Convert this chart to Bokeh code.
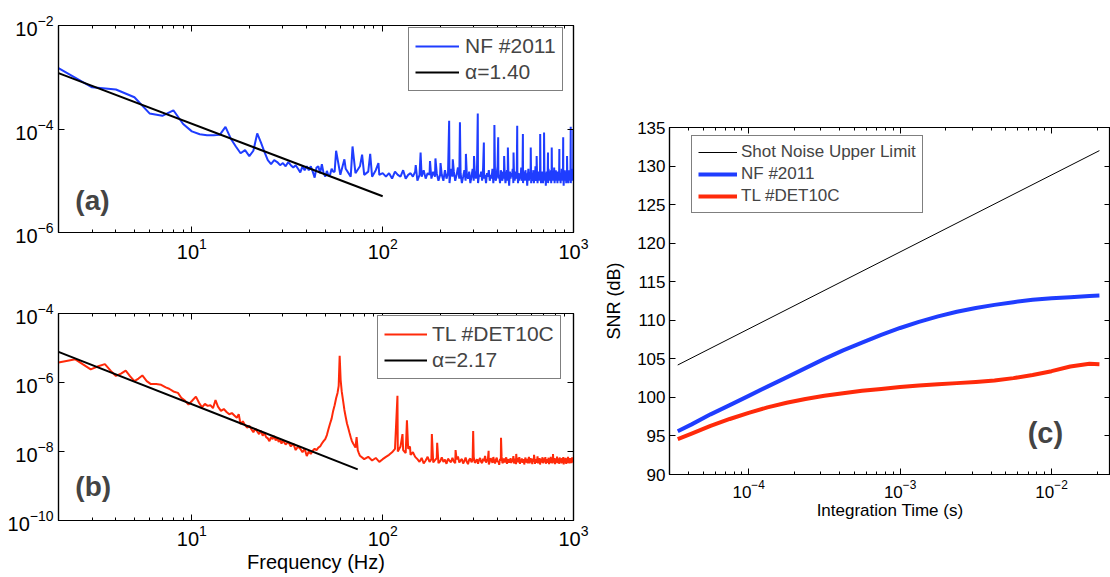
import numpy as np
from bokeh.plotting import figure
from bokeh.layouts import row, column
from bokeh.models import (Legend, LegendItem, LogAxis, LinearAxis, FixedTicker,
                          CustomJSTickFormatter, Label, Range1d)
from bokeh.embed import file_html
from bokeh.resources import INLINE

FONT = "Liberation Sans"
BLUE = "#1f3dff"
RED = "#ff2a0a"

# ---------------- (a) NF #2011 noise spectrum, values in 1e-6 ----------------
nf_freq_low = list(range(2, 56))
nf_psd_low = [1500, 640, 580, 410, 200, 180, 230, 125, 90, 79,
              76, 76, 77, 110, 65, 46, 34, 39, 30, 38,
              82, 55, 36, 25, 21, 25, 23, 20, 22, 19,
              23, 20, 18, 20, 17, 14.5, 19, 16, 19, 16,
              19, 15, 11.5, 18, 19, 14, 21, 14, 12, 15.5,
              12.5, 13, 17, 15]
nf_freq_floor = list(range(56, 1001, 4))
nf_psd_floor = [
    15, 13, 17, 12, 14, 19, 13, 15, 12, 16, 13, 14,
    12, 14, 11, 15, 13, 12, 16, 11, 13, 14, 12, 15, 10, 13, 12, 16, 11, 14, 13, 11, 15, 12, 14, 10, 13,
    13, 10, 16, 11, 14, 9, 17, 12, 15, 10, 13, 18, 11, 14, 9, 12, 16, 10, 13, 11,
    15, 9, 12, 17, 10, 14, 11, 16, 9, 13, 12, 15, 10, 18, 11, 13, 9, 14, 12, 16,
    10, 13, 11, 17, 9, 15, 12, 10, 14, 19, 11, 13, 9, 16, 12, 10, 15, 11, 14, 9,
    12, 16, 10, 13, 8, 15, 11, 14, 12, 17, 9, 13, 10, 15, 12, 11, 16, 9, 14, 10,
    13, 11, 18, 10, 12, 9, 15, 13, 10, 16, 11, 14, 8, 12, 17, 10, 13, 11, 15, 9,
    14, 10, 12, 16, 9, 13, 11, 19, 10, 12, 14, 9, 15, 11, 13, 10, 17, 12, 9, 14,
    11, 15, 9, 13, 12, 16, 10, 14, 8, 12, 15, 11, 13, 9, 17, 10, 14, 12, 10, 16,
    9, 13, 11, 15, 10, 14, 12, 18, 9, 13, 11, 16, 10, 12, 14, 9, 15, 11, 13, 10,
    16, 10, 12, 9, 14, 11, 17, 10, 13, 12, 15, 8, 13, 11, 16, 10, 12, 14, 9, 15,
    11, 14, 10, 13, 9, 16, 12, 10, 15, 11, 13, 9, 17, 12, 10, 14, 11, 13, 10, 11]
nf_spike_freq = [57, 63, 69.5, 78, 86, 95, 149, 158, 177, 189, 201,
                 223, 233, 254, 273, 301, 315, 339, 385, 403, 433,
                 453, 485, 507, 543, 597, 641, 669, 701, 735, 769,
                 843, 883, 925, 967, 998]
nf_spike_psd = [38, 26, 46, 32, 33, 22, 20, 35, 24, 27, 22,
                145, 26, 135, 33, 30, 200, 55, 120, 69, 30,
                44, 35, 116, 80, 44, 30, 80, 86, 35, 44,
                41, 69, 30, 110, 100]
nf_alpha = 1.40
nf_fit_freq = [2, 100]
nf_fit_start = 1.2e-3

# ---------------- (b) TL #DET10C noise spectrum, values in 1e-9 ----------------
tl_freq_low = [2.0, 2.2, 2.45, 2.7, 2.95, 3.2, 3.5, 3.75, 4.0, 4.25,
               4.5, 4.75, 5.0, 5.25, 5.5, 5.8, 6.1, 6.5, 6.9, 7.3,
               7.6, 8.0, 8.45, 8.8, 9.2, 9.6, 10.0, 10.5, 10.9, 11.3,
               11.7, 12.1, 12.5, 12.9, 13.3, 13.7, 14.2, 14.7, 15.2, 15.7,
               16.2, 16.7, 17.2, 17.6, 18.0, 18.5, 19.0, 19.5, 20.0, 20.5,
               21.0, 21.5, 22, 22.5, 23, 23.5, 24, 24.5, 25, 25.5,
               26, 26.5, 27, 27.5, 28, 28.5, 29, 29.5, 30, 31,
               32, 33, 34, 35, 36, 37, 38, 39, 40, 41,
               42, 43, 44, 45, 46, 47, 48, 49, 50, 51,
               52, 53, 54, 55, 56, 57, 58, 58.8, 59.5, 60.2,
               61, 62, 63, 64, 65, 66, 67, 68, 69, 70,
               71, 72, 73, 74, 75]
tl_psd_low = [3800, 4200, 4700, 3300, 2400, 2900, 3400, 2200, 1550, 1800,
              2200, 1500, 1100, 1300, 1600, 1100, 900, 900, 860, 720,
              660, 550, 500, 360, 300, 230, 290, 390, 260, 190,
              240, 210, 220, 180, 310, 200, 150, 170, 140, 120,
              130, 110, 95, 120, 62, 75, 58, 49, 56, 44,
              36, 46, 38, 32, 40, 29, 34, 26, 24, 20,
              26, 23, 28, 21, 25, 19, 22, 17, 21, 16,
              19, 14, 17, 11, 14, 12, 9.5, 12, 7.4, 10,
              8.5, 10.5, 12, 11, 13, 14, 17, 20, 23, 30,
              45, 65, 90, 150, 220, 350, 500, 800, 5900, 1200,
              550, 300, 160, 100, 65, 48, 35, 26, 20, 17,
              15, 13, 26, 11, 9]
tl_freq_floor = list(range(76, 1001, 4))
tl_psd_floor = [
    7.5, 6.0, 7.0, 5.5, 6.5, 5.0, 6.0, 7.0, 8.0, 9.5,
    12, 10, 14, 11, 9, 12, 8, 9.5, 7,
    6.0, 5.0, 6.5, 4.5, 5.5, 7.0, 5.0, 6.0, 4.8, 5.6, 6.4, 4.6, 5.2, 6.8, 5.0, 5.8, 4.4, 6.2, 5.4, 4.9,
    6.6, 5.1, 4.6, 5.9, 7.2, 4.8, 5.5, 6.1, 4.5, 5.3, 6.7, 5.0, 4.3, 5.8, 6.3, 4.9, 5.6, 7.0, 4.7, 5.2,
    6.0, 4.4, 5.7, 6.5, 5.0, 4.6, 6.2, 5.3, 7.4, 4.8, 5.5, 6.0, 4.2, 5.1, 6.4, 5.6, 4.7, 6.9, 5.2, 4.5,
    5.8, 6.6, 4.9, 5.3, 4.1, 6.1, 5.4, 7.1, 4.6, 5.0, 6.3, 4.8, 5.7, 6.8, 4.4, 5.2, 6.0, 4.7, 5.5, 6.4,
    4.6, 5.9, 5.1, 7.3, 4.5, 5.4, 6.2, 4.3, 5.6, 6.5, 4.9, 5.2, 6.9, 4.4, 5.8, 5.0, 6.3, 4.7, 5.4, 6.0,
    4.2, 5.5, 6.7, 4.8, 5.1, 6.1, 4.5, 5.7, 7.0, 4.6, 5.3, 6.4, 4.9, 5.6, 4.3, 6.2, 5.0, 5.8, 6.6, 4.4,
    5.3, 6.0, 4.7, 5.5, 7.2, 4.5, 5.9, 5.1, 6.5, 4.2, 5.4, 6.1, 4.8, 5.7, 6.8, 4.6, 5.2, 6.3, 4.9, 5.6,
    6.9, 4.4, 5.3, 6.0, 4.7, 5.8, 5.1, 6.6, 4.3, 5.5, 6.2, 4.9, 7.0, 4.6, 5.4, 5.9, 4.5, 6.4, 5.2, 4.8,
    5.7, 6.5, 4.3, 5.4, 6.1, 4.8, 5.2, 7.1, 4.6, 5.9, 5.0, 6.3, 4.4, 5.6, 6.7, 4.9, 5.3, 6.0, 4.5, 5.8,
    6.4, 4.7, 5.5, 6.9, 4.2, 5.1, 6.2, 5.6, 4.8, 6.6, 5.0, 4.4, 5.9, 6.3, 4.6, 5.4, 7.0, 4.9, 5.2, 6.1,
    4.5, 5.7, 6.4, 4.8, 5.3, 6.0, 4.6, 5.5, 6.8, 4.9, 5.2, 6.2, 5.4]
tl_spike_freq = [119.5, 127, 134, 139, 181, 193, 241, 298, 359, 417, 501, 621, 781]
tl_spike_psd = [410, 32, 80, 14, 32, 18, 11, 39, 10.5, 25, 8.5, 8, 8.5]
tl_alpha = 2.17
tl_fit_freq = [2, 74]
tl_fit_start = 7.7e-6

# ---------------- (c) SNR versus integration time ----------------
shot_time = [3.4e-5, 2.07e-2]
shot_snr = [104.2, 132.0]
snr_time = [3.4e-5, 4.2e-5, 5.6e-5, 7.5e-5, 1e-4, 1.33e-4, 1.78e-4, 2.37e-4,
            3.16e-4, 4.2e-4, 5.6e-4, 7.5e-4, 1e-3, 1.33e-3, 1.78e-3, 2.37e-3,
            3.16e-3, 4.2e-3, 5.6e-3, 7.5e-3, 1e-2, 1.33e-2, 1.78e-2, 2.07e-2]
nf_snr = [95.6, 96.5, 97.8, 99.0, 100.2, 101.4, 102.6, 103.8,
          105.0, 106.1, 107.1, 108.1, 109.0, 109.8, 110.5, 111.1,
          111.6, 112.0, 112.35, 112.65, 112.85, 113.0, 113.15, 113.2]
tl_snr = [94.6, 95.3, 96.3, 97.2, 98.0, 98.7, 99.3, 99.8,
          100.2, 100.55, 100.85, 101.1, 101.35, 101.55, 101.7, 101.85,
          102.0, 102.2, 102.5, 102.9, 103.4, 104.0, 104.35, 104.3]


def merged(f_parts, v_parts, scale):
    f = np.concatenate([np.asarray(a, float) for a in f_parts])
    v = np.concatenate([np.asarray(a, float) for a in v_parts]) * scale
    order = np.argsort(f, kind="stable")
    return f[order], v[order]


def power_law(freqs, start, alpha):
    f = np.asarray(freqs, float)
    return f, start * (f / f[0]) ** (-alpha)


def blank():
    return CustomJSTickFormatter(code="return ''")


def style_axis(ax, size):
    ax.axis_line_color = "black"
    ax.axis_line_width = 1.2
    ax.major_tick_line_color = "black"
    ax.minor_tick_line_color = "black"
    ax.major_tick_in = 6
    ax.major_tick_out = 0
    ax.minor_tick_in = 3
    ax.minor_tick_out = 0
    ax.major_label_text_font = FONT
    ax.major_label_text_font_size = size
    ax.major_label_text_color = "black"
    ax.axis_label_text_font = FONT
    ax.axis_label_text_font_style = "normal"
    ax.axis_label_text_color = "black"


def box_axes(p, xtick, ytick, size, xlog=True, ylog=True):
    bottom, left = p.below[0], p.left[0]
    style_axis(bottom, size)
    style_axis(left, size)
    bottom.ticker = xtick
    left.ticker = ytick
    top = (LogAxis if xlog else LinearAxis)(ticker=xtick, formatter=blank())
    right = (LogAxis if ylog else LinearAxis)(ticker=ytick, formatter=blank())
    for ax in (top, right):
        style_axis(ax, "0px")
        ax.major_label_standoff = 0
    p.add_layout(top, "above")
    p.add_layout(right, "right")
    return bottom, left


def base_fig(w, h, xr, yr, xtype, ytype, left, right, top, bottom):
    p = figure(width=w, height=h, x_range=xr, y_range=yr,
               x_axis_type=xtype, y_axis_type=ytype,
               output_backend="svg", toolbar_location=None,
               min_border_left=left, min_border_right=right,
               min_border_top=top, min_border_bottom=bottom)
    p.grid.visible = False
    p.outline_line_color = "black"
    p.outline_line_width = 1.2
    p.background_fill_color = "white"
    p.border_fill_color = "white"
    return p


def legend(items, loc, size, glyph_w, standoff, padding, spacing, lh):
    return Legend(items=items, location=loc, margin=0, padding=padding,
                  spacing=spacing, glyph_width=glyph_w, glyph_height=lh,
                  label_height=lh, label_standoff=standoff,
                  label_text_font=FONT, label_text_font_size=size,
                  border_line_color="black", border_line_width=1.5,
                  background_fill_color="white", background_fill_alpha=1)


freq_ticker = FixedTicker(ticks=[10, 100, 1000],
                          minor_ticks=[m * d for d in (1, 10, 100) for m in range(2, 10)])

# ---------------- panel (a) ----------------
fa = base_fig(600, 280, Range1d(2, 1000), Range1d(1e-6, 1e-2), "log", "log", 58, 27, 25, 48)
box_axes(fa, freq_ticker, FixedTicker(ticks=[1e-6, 1e-4, 1e-2]), "20px")
fa_f, fa_v = merged([nf_freq_low, nf_freq_floor, nf_spike_freq],
                    [nf_psd_low, nf_psd_floor, nf_spike_psd], 1e-6)
ra1 = fa.line(fa_f, fa_v, line_color=BLUE, line_width=2)
fit_f, fit_v = power_law(nf_fit_freq, nf_fit_start, nf_alpha)
ra2 = fa.line(fit_f, fit_v, line_color="black", line_width=2)
fa.add_layout(legend([LegendItem(label="NF #2011", renderers=[ra1]),
                      LegendItem(label="\u03b1=1.40", renderers=[ra2])],
                     (350, 141), "21px", 44, 6, 6, 2, 22))
fa.add_layout(Label(x=2.45, y=4.2e-6, text="(a)", text_font=FONT, text_font_size="28px",
                    text_font_style="bold", text_baseline="middle", text_align="left"))

# ---------------- panel (b) ----------------
fb = base_fig(600, 297, Range1d(2, 1000), Range1d(1e-10, 1e-4), "log", "log", 58, 27, 33, 57)
fb_x, fb_y = box_axes(fb, freq_ticker, FixedTicker(ticks=[1e-10, 1e-8, 1e-6, 1e-4]), "20px")
fb_x.axis_label = "Frequency (Hz)"
fb_x.axis_label_text_font_size = "20px"
fb_x.axis_label_standoff = 2
fb_x.major_label_standoff = 4
fb_f, fb_v = merged([tl_freq_low, tl_freq_floor, tl_spike_freq],
                    [tl_psd_low, tl_psd_floor, tl_spike_psd], 1e-9)
rb1 = fb.line(fb_f, fb_v, line_color=RED, line_width=2)
fit_f, fit_v = power_law(tl_fit_freq, tl_fit_start, tl_alpha)
rb2 = fb.line(fit_f, fit_v, line_color="black", line_width=2)
fb.add_layout(legend([LegendItem(label="TL #DET10C", renderers=[rb1]),
                      LegendItem(label="\u03b1=2.17", renderers=[rb2])],
                     (319, 141), "21px", 43, 5, 6, 2, 22))
fb.add_layout(Label(x=2.45, y=1.0e-9, text="(b)", text_font=FONT, text_font_size="28px",
                    text_font_style="bold", text_baseline="middle", text_align="left"))

# ---------------- panel (c) ----------------
fc = base_fig(510, 577, Range1d(3e-5, 0.0245), Range1d(90, 135), "log", "linear", 69, 0, 127, 103)
time_ticker = FixedTicker(ticks=[1e-4, 1e-3, 1e-2],
                          minor_ticks=[m * d for d in (1e-5, 1e-4, 1e-3, 1e-2) for m in range(2, 10)])
fc_x, fc_y = box_axes(fc, time_ticker, FixedTicker(ticks=list(range(90, 136, 5))), "17px",
                      xlog=True, ylog=False)
fc_x.axis_label = "Integration Time (s)"
fc_x.axis_label_text_font_size = "17px"
fc_x.axis_label_standoff = 0
fc_y.axis_label = "SNR (dB)"
fc_y.axis_label_text_font_size = "18px"
fc_y.axis_label_standoff = 10
fc_y.major_label_standoff = 4
rc1 = fc.line(shot_time, shot_snr, line_color="black", line_width=1)
rc2 = fc.line(snr_time, nf_snr, line_color=BLUE, line_width=4, line_join="round")
rc3 = fc.line(snr_time, tl_snr, line_color=RED, line_width=4, line_join="round")
fc.add_layout(legend([LegendItem(label="Shot Noise Upper Limit", renderers=[rc1]),
                      LegendItem(label="NF #2011", renderers=[rc2]),
                      LegendItem(label="TL #DET10C", renderers=[rc3])],
                     (22, 261), "17px", 39, 4, 6, 2, 20))
fc.add_layout(Label(x=6.95e-3, y=95.4, text="(c)", text_font=FONT, text_font_size="29px",
                    text_font_style="bold", text_baseline="middle", text_align="left"))

layout = row(column(fa, fb), fc)
open("out.html", "w").write(file_html(layout, INLINE))
